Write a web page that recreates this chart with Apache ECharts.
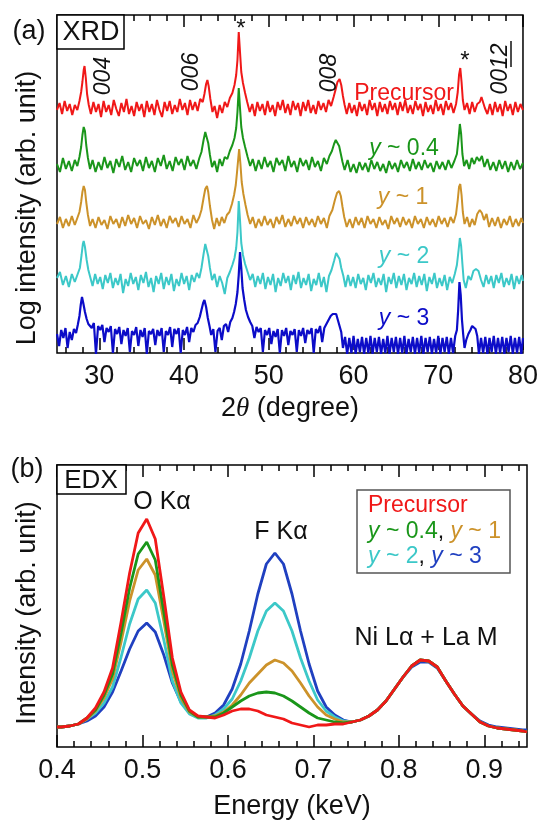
<!DOCTYPE html>
<html>
<head>
<meta charset="utf-8">
<title>XRD / EDX</title>
<script src="https://cdn.jsdelivr.net/npm/echarts@6/dist/echarts.min.js"></script>
<style>
  html, body { margin: 0; padding: 0; background: #fff; }
  #chart { width: 541px; height: 826px; }
</style>
</head>
<body>
<div id="chart"></div>
<script>
// ---------- ticks ----------
const xrdMajorTicks = [30, 40, 50, 60, 70, 80]
const xrdMinorTicks = [26, 28, 32, 34, 36, 38, 42, 44, 46, 48, 52, 54, 56, 58, 62, 64, 66, 68, 72, 74, 76, 78]
const edxMajorTicks = [0.4, 0.5, 0.6, 0.7, 0.8, 0.9]
const edxMinorTicks = [0.42, 0.44, 0.46, 0.48, 0.52, 0.54, 0.56, 0.58, 0.62, 0.64, 0.66, 0.68,
  0.72, 0.74, 0.76, 0.78, 0.82, 0.84, 0.86, 0.88, 0.92, 0.94]

// ---------- XRD, [2theta, offset log intensity] ----------
const xrdPrecursor = [[25,240],[25.3,247],[25.6,236],[25.9,249],[26.2,239],[26.5,246],[26.8,235],[27.1,245],[27.4,240],[27.65,249],[27.85,258],[28.0,268],[28.15,280],[28.25,284],[28.4,272],[28.55,256],[28.75,245],[29.0,236],[29.3,248],[29.6,238],[29.9,246],[30.2,233],[30.5,249],[30.8,238],[31.1,245],[31.4,235],[31.7,250],[32.0,241],[32.3,234],[32.6,247],[32.9,238],[33.2,251],[33.5,236],[33.8,244],[34.1,234],[34.4,248],[34.7,239],[35.0,246],[35.3,233],[35.6,249],[35.9,238],[36.2,246],[36.5,235],[36.8,250],[37.1,240],[37.4,233],[37.7,248],[38.0,239],[38.3,249],[38.6,236],[38.9,245],[39.2,238],[39.5,251],[39.8,240],[40.1,247],[40.4,235],[40.7,250],[41.0,240],[41.3,248],[41.6,239],[41.9,251],[42.2,248],[42.4,256],[42.6,266],[42.75,270],[42.9,264],[43.1,251],[43.35,238],[43.6,244],[43.9,232],[44.2,245],[44.5,237],[44.8,248],[45.1,243],[45.4,252],[45.7,257],[45.95,265],[46.15,275],[46.3,290],[46.45,318],[46.6,298],[46.75,278],[46.95,267],[47.2,257],[47.45,248],[47.75,238],[48.05,246],[48.35,234],[48.65,248],[48.95,239],[49.25,246],[49.55,235],[49.85,249],[50.15,238],[50.45,245],[50.75,234],[51.05,248],[51.35,240],[51.65,250],[51.95,237],[52.25,246],[52.55,235],[52.85,249],[53.15,240],[53.45,247],[53.75,234],[54.05,248],[54.35,239],[54.65,250],[54.95,237],[55.25,245],[55.55,236],[55.85,249],[56.15,240],[56.45,247],[56.75,238],[57.05,250],[57.35,244],[57.65,253],[57.9,261],[58.1,268],[58.35,271],[58.55,265],[58.75,254],[58.95,245],[59.2,236],[59.5,247],[59.8,237],[60.1,245],[60.4,234],[60.7,248],[61.0,239],[61.3,246],[61.6,235],[61.9,250],[62.2,240],[62.5,247],[62.8,234],[63.1,248],[63.4,238],[63.7,246],[64.0,236],[64.3,249],[64.6,240],[64.9,247],[65.2,235],[65.5,248],[65.8,239],[66.1,250],[66.4,237],[66.7,245],[67.0,236],[67.3,249],[67.6,240],[67.9,246],[68.2,234],[68.5,248],[68.8,238],[69.1,245],[69.4,236],[69.7,250],[70.0,239],[70.3,246],[70.6,235],[70.9,249],[71.2,240],[71.5,247],[71.8,237],[72.1,246],[72.3,258],[72.45,275],[72.6,282],[72.75,268],[72.9,250],[73.1,240],[73.4,247],[73.7,236],[74.0,248],[74.3,238],[74.6,246],[74.9,248],[75.1,253],[75.3,251],[75.5,242],[75.8,236],[76.1,246],[76.4,235],[76.7,248],[77.0,238],[77.3,246],[77.6,234],[77.9,249],[78.2,239],[78.5,246],[78.8,235],[79.1,248],[79.4,238],[79.7,246],[80,240]]

const xrdY04 = [[25,186],[25.35,178],[25.7,192],[26.05,181],[26.4,189],[26.75,179],[27.1,190],[27.4,184],[27.65,193],[27.85,203],[28.0,215],[28.15,223],[28.3,219],[28.45,205],[28.65,192],[28.9,181],[29.2,190],[29.55,178],[29.9,188],[30.25,180],[30.6,193],[30.95,182],[31.3,189],[31.65,177],[32.0,191],[32.35,183],[32.7,194],[33.05,180],[33.4,188],[33.75,178],[34.1,192],[34.45,184],[34.8,190],[35.15,179],[35.5,193],[35.85,182],[36.2,189],[36.55,178],[36.9,192],[37.25,184],[37.6,195],[37.95,181],[38.3,189],[38.65,179],[39.0,193],[39.35,185],[39.7,191],[40.05,180],[40.4,194],[40.75,184],[41.1,190],[41.45,181],[41.8,192],[42.05,198],[42.3,210],[42.5,218],[42.65,217],[42.85,207],[43.05,195],[43.3,183],[43.6,189],[43.9,178],[44.2,191],[44.5,184],[44.8,193],[45.1,191],[45.4,199],[45.7,205],[45.95,212],[46.15,222],[46.3,238],[46.45,262],[46.6,242],[46.75,223],[46.95,212],[47.2,203],[47.5,193],[47.8,184],[48.1,191],[48.45,179],[48.8,190],[49.15,181],[49.5,193],[49.85,183],[50.2,189],[50.55,178],[50.9,192],[51.25,185],[51.6,190],[51.95,179],[52.3,194],[52.65,183],[53.0,189],[53.35,178],[53.7,192],[54.05,184],[54.4,190],[54.75,180],[55.1,193],[55.45,183],[55.8,189],[56.15,179],[56.5,192],[56.85,186],[57.15,194],[57.45,199],[57.7,206],[57.9,210],[58.1,209],[58.3,204],[58.5,196],[58.7,188],[58.95,180],[59.3,190],[59.65,178],[60.0,186],[60.35,177],[60.7,188],[61.05,180],[61.4,187],[61.75,178],[62.1,190],[62.45,181],[62.8,188],[63.15,179],[63.5,186],[63.85,177],[64.2,189],[64.55,181],[64.9,187],[65.25,178],[65.6,190],[65.95,182],[66.3,188],[66.65,179],[67.0,191],[67.35,181],[67.7,188],[68.05,180],[68.4,190],[68.75,182],[69.1,187],[69.45,178],[69.8,189],[70.15,181],[70.5,188],[70.85,180],[71.2,190],[71.55,182],[71.9,189],[72.2,196],[72.4,212],[72.55,226],[72.7,216],[72.85,196],[73.05,184],[73.35,190],[73.65,181],[73.95,192],[74.25,186],[74.55,193],[74.85,189],[75.15,194],[75.45,183],[75.8,191],[76.15,180],[76.5,188],[76.85,179],[77.2,190],[77.55,181],[77.9,189],[78.25,178],[78.6,188],[78.95,180],[79.3,190],[79.65,181],[80,187]]

const xrdY1 = [[25,126],[25.35,133],[25.7,122],[26.05,131],[26.4,124],[26.75,134],[27.1,125],[27.4,132],[27.65,138],[27.85,148],[28.0,158],[28.15,164],[28.3,160],[28.45,148],[28.65,135],[28.9,124],[29.2,131],[29.55,122],[29.9,133],[30.25,125],[30.6,130],[30.95,121],[31.3,134],[31.65,126],[32.0,131],[32.35,122],[32.7,133],[33.05,124],[33.4,135],[33.75,126],[34.1,132],[34.45,122],[34.8,134],[35.15,126],[35.5,130],[35.85,121],[36.2,133],[36.55,125],[36.9,135],[37.25,124],[37.6,131],[37.95,122],[38.3,134],[38.65,127],[39.0,132],[39.35,123],[39.7,134],[40.05,126],[40.4,131],[40.75,122],[41.1,135],[41.45,127],[41.8,133],[42.05,140],[42.3,152],[42.5,161],[42.7,164],[42.85,158],[43.05,144],[43.3,130],[43.55,121],[43.85,132],[44.15,124],[44.45,133],[44.75,127],[45.05,135],[45.35,138],[45.65,146],[45.9,155],[46.1,165],[46.25,178],[46.4,192],[46.5,201],[46.65,186],[46.8,168],[47.0,156],[47.25,145],[47.5,135],[47.8,126],[48.1,133],[48.45,122],[48.8,131],[49.15,124],[49.5,134],[49.85,125],[50.2,131],[50.55,122],[50.9,133],[51.25,126],[51.6,135],[51.95,123],[52.3,131],[52.65,124],[53.0,134],[53.35,126],[53.7,132],[54.05,122],[54.4,133],[54.75,125],[55.1,131],[55.45,123],[55.8,134],[56.15,126],[56.5,132],[56.85,122],[57.15,134],[57.5,140],[57.8,150],[58.05,157],[58.3,159],[58.5,154],[58.7,143],[58.9,133],[59.2,123],[59.55,131],[59.9,122],[60.25,133],[60.6,125],[60.95,132],[61.3,122],[61.65,134],[62.0,126],[62.35,131],[62.7,122],[63.05,133],[63.4,125],[63.75,130],[64.1,121],[64.45,134],[64.8,126],[65.15,132],[65.5,123],[65.85,133],[66.2,125],[66.55,131],[66.9,122],[67.25,134],[67.6,126],[67.95,131],[68.3,122],[68.65,133],[69.0,125],[69.35,131],[69.7,123],[70.05,134],[70.4,126],[70.75,132],[71.1,123],[71.45,133],[71.8,127],[72.1,136],[72.3,150],[72.45,163],[72.6,166],[72.75,155],[72.9,138],[73.1,126],[73.4,133],[73.7,123],[74.0,131],[74.3,125],[74.6,136],[74.9,140],[75.15,137],[75.4,130],[75.7,136],[76.0,123],[76.35,132],[76.7,124],[77.05,133],[77.4,122],[77.75,131],[78.1,125],[78.45,134],[78.8,123],[79.15,131],[79.5,124],[79.8,132],[80,127]]

const xrdY2 = [[25,72],[25.35,78],[25.7,65],[26.05,74],[26.4,63],[26.75,76],[27.1,68],[27.4,75],[27.7,82],[27.9,95],[28.05,106],[28.15,109],[28.3,103],[28.5,90],[28.7,80],[28.95,72],[29.2,64],[29.5,76],[29.8,66],[30.1,73],[30.4,61],[30.7,75],[31.0,67],[31.3,77],[31.6,62],[31.9,72],[32.2,65],[32.5,76],[32.8,57],[33.1,71],[33.4,64],[33.7,77],[34.0,66],[34.3,73],[34.6,60],[34.9,75],[35.2,67],[35.5,78],[35.8,63],[36.1,72],[36.4,58],[36.7,74],[37.0,66],[37.3,77],[37.6,61],[37.9,73],[38.2,65],[38.5,76],[38.8,59],[39.1,71],[39.4,64],[39.7,77],[40.0,66],[40.3,74],[40.6,60],[40.9,75],[41.2,68],[41.5,77],[41.8,72],[42.05,82],[42.3,96],[42.5,106],[42.65,104],[42.85,94],[43.05,82],[43.3,70],[43.6,76],[43.9,63],[44.2,74],[44.5,67],[44.8,56],[45.1,72],[45.4,78],[45.7,85],[45.95,92],[46.15,102],[46.3,118],[46.45,149],[46.6,130],[46.75,107],[46.95,95],[47.2,86],[47.5,78],[47.8,70],[48.1,76],[48.4,63],[48.7,74],[49.0,66],[49.3,77],[49.6,61],[49.9,73],[50.2,65],[50.5,76],[50.8,58],[51.1,72],[51.4,64],[51.7,77],[52.0,67],[52.3,74],[52.6,60],[52.9,75],[53.2,66],[53.5,78],[53.8,62],[54.1,72],[54.4,65],[54.7,76],[55.0,59],[55.3,71],[55.6,65],[55.9,77],[56.2,63],[56.5,73],[56.8,58],[57.1,74],[57.4,80],[57.7,89],[57.95,97],[58.15,97],[58.35,91],[58.55,82],[58.8,74],[59.05,63],[59.35,75],[59.65,64],[59.95,73],[60.25,62],[60.55,76],[60.85,66],[61.15,72],[61.45,60],[61.75,75],[62.05,67],[62.35,77],[62.65,63],[62.95,72],[63.25,65],[63.55,76],[63.85,58],[64.15,73],[64.45,66],[64.75,77],[65.05,62],[65.35,74],[65.65,65],[65.95,76],[66.25,60],[66.55,72],[66.85,66],[67.15,77],[67.45,63],[67.75,74],[68.05,65],[68.35,76],[68.65,59],[68.95,73],[69.25,66],[69.55,77],[69.85,62],[70.15,72],[70.45,64],[70.75,75],[71.05,60],[71.35,73],[71.65,67],[71.95,76],[72.2,85],[72.4,100],[72.55,112],[72.7,104],[72.85,86],[73.0,70],[73.25,62],[73.55,74],[73.85,70],[74.15,79],[74.45,81],[74.75,79],[75.05,70],[75.35,63],[75.65,75],[75.95,66],[76.25,74],[76.55,62],[76.85,75],[77.15,67],[77.45,77],[77.75,63],[78.05,72],[78.35,65],[78.65,76],[78.95,61],[79.25,74],[79.55,66],[79.85,75],[80,69]]

const xrdY3 = [[25,16],[25.25,4],[25.5,20],[25.75,12],[26.0,22],[26.25,2],[26.5,18],[26.75,10],[27.0,21],[27.25,17],[27.45,25],[27.65,34],[27.8,45],[27.95,53],[28.1,47],[28.3,38],[28.5,31],[28.7,26],[28.9,28],[29.1,22],[29.35,27],[29.6,-4],[29.85,24],[30.1,20],[30.35,25],[30.6,8],[30.85,22],[31.1,18],[31.35,24],[31.6,-3],[31.85,21],[32.1,16],[32.35,23],[32.6,6],[32.85,20],[33.1,14],[33.35,22],[33.6,-2],[33.85,19],[34.1,15],[34.35,23],[34.6,4],[34.85,20],[35.1,13],[35.35,22],[35.6,-4],[35.85,19],[36.1,16],[36.35,21],[36.6,5],[36.85,20],[37.1,14],[37.35,22],[37.6,-2],[37.85,19],[38.1,15],[38.35,23],[38.6,3],[38.85,21],[39.1,16],[39.35,22],[39.6,-3],[39.85,20],[40.1,15],[40.35,23],[40.6,8],[40.85,22],[41.1,18],[41.35,25],[41.6,27],[41.85,33],[42.05,40],[42.25,47],[42.4,50],[42.6,43],[42.8,32],[43.0,24],[43.2,15],[43.45,21],[43.7,-2],[43.95,19],[44.2,22],[44.45,10],[44.7,24],[44.95,26],[45.2,18],[45.45,28],[45.7,32],[45.9,38],[46.1,46],[46.3,58],[46.45,75],[46.6,98],[46.75,82],[46.9,62],[47.1,50],[47.3,40],[47.55,33],[47.8,28],[48.05,24],[48.3,12],[48.55,23],[48.8,18],[49.05,22],[49.3,-2],[49.55,20],[49.8,15],[50.05,22],[50.3,6],[50.55,19],[50.8,13],[51.05,21],[51.3,-3],[51.55,20],[51.8,14],[52.05,22],[52.3,5],[52.55,19],[52.8,15],[53.05,21],[53.3,-2],[53.55,20],[53.8,14],[54.05,22],[54.3,7],[54.55,20],[54.8,16],[55.05,22],[55.3,-3],[55.55,21],[55.8,17],[56.05,24],[56.3,8],[56.55,22],[56.8,26],[57.05,30],[57.3,34],[57.55,36],[57.75,38],[57.95,36],[58.15,30],[58.35,24],[58.55,18],[58.75,2],[59.0,13],[59.25,-4],[59.5,12],[59.75,-3],[60.0,14],[60.25,-4],[60.5,11],[60.75,-2],[61.0,13],[61.25,-4],[61.5,12],[61.75,-3],[62.0,14],[62.25,-4],[62.5,12],[62.75,-2],[63.0,13],[63.25,-4],[63.5,11],[63.75,-3],[64.0,14],[64.25,-4],[64.5,12],[64.75,-2],[65.0,13],[65.25,-4],[65.5,12],[65.75,-3],[66.0,14],[66.25,-4],[66.5,11],[66.75,-2],[67.0,13],[67.25,-4],[67.5,12],[67.75,-3],[68.0,14],[68.25,-4],[68.5,12],[68.75,-2],[69.0,13],[69.25,-4],[69.5,11],[69.75,-3],[70.0,14],[70.25,-4],[70.5,12],[70.75,-2],[71.0,13],[71.25,-4],[71.5,12],[71.75,-3],[72.0,14],[72.2,20],[72.35,40],[72.5,68],[72.65,55],[72.8,30],[72.95,15],[73.1,2],[73.3,10],[73.55,16],[73.8,20],[74.0,24],[74.2,25],[74.4,21],[74.6,14],[74.8,-4],[75.05,12],[75.3,-3],[75.55,13],[75.8,-4],[76.05,12],[76.3,-2],[76.55,14],[76.8,-4],[77.05,12],[77.3,-3],[77.55,13],[77.8,-4],[78.05,12],[78.3,-2],[78.55,14],[78.8,-4],[79.05,12],[79.3,-3],[79.55,13],[79.8,-4],[80,12]]

// ---------- EDX ----------
const edxEnergy = [0.400, 0.405, 0.415, 0.425, 0.435, 0.445, 0.455, 0.465, 0.475, 0.485, 0.495, 0.505, 0.515,
  0.525, 0.535, 0.545, 0.555, 0.565, 0.575, 0.585, 0.595, 0.605, 0.615, 0.625, 0.635, 0.645, 0.655, 0.665,
  0.675, 0.685, 0.695, 0.705, 0.715, 0.725, 0.735, 0.745, 0.755, 0.765, 0.775, 0.785, 0.795, 0.805, 0.815,
  0.825, 0.835, 0.845, 0.855, 0.865, 0.875, 0.885, 0.895, 0.905, 0.915, 0.925, 0.935, 0.945, 0.950]
const edxPrecursor = [20, 20, 21, 23, 29, 39, 55, 79, 125, 174, 214, 228, 208, 150, 89, 55, 37, 31,
  30, 29, 32, 36, 38, 38, 36, 32, 30, 28, 24, 22, 20, 22, 22, 23, 23,
  25, 27, 31, 37, 46, 58, 70, 81, 87, 86, 80, 66, 53, 41, 33, 25, 21, 19, 18, 17, 16, 15]
const edxY04 = [20, 20, 21, 23, 29, 37, 52, 73, 114, 159, 193, 205, 187, 135, 82, 52, 36, 30,
  30, 30, 34, 40, 46, 51, 54, 55, 54, 51, 46, 40, 34, 29, 27, 25, 24,
  25, 27, 31, 37, 46, 58, 70, 81, 87, 86, 80, 66, 53, 41, 33, 25, 21, 19, 18, 17, 16, 15]
const edxY1 = [20, 20, 21, 23, 28, 36, 49, 68, 105, 146, 177, 188, 172, 126, 76, 49, 35, 30,
  30, 31, 35, 42, 52, 64, 73, 82, 87, 84, 76, 64, 51, 40, 32, 28, 25,
  25, 27, 31, 37, 46, 58, 70, 81, 87, 86, 80, 66, 53, 41, 33, 25, 21, 19, 18, 17, 16, 15]
const edxY2 = [20, 20, 21, 23, 28, 34, 44, 60, 90, 123, 148, 157, 144, 107, 66, 44, 33, 29,
  29, 32, 38, 48, 66, 89, 116, 136, 144, 136, 116, 89, 66, 47, 36, 30, 26,
  25, 27, 31, 37, 46, 58, 70, 81, 87, 86, 80, 66, 53, 41, 33, 25, 21, 19, 18, 17, 16, 15]
const edxY3 = [20, 20, 21, 23, 26, 31, 40, 55, 76, 98, 116, 124, 115, 92, 64, 45, 34, 30,
  30, 34, 42, 58, 83, 116, 153, 183, 194, 183, 153, 116, 83, 56, 40, 32, 27,
  25, 27, 31, 37, 46, 58, 70, 80, 85, 85, 79, 66, 53, 41, 33, 26, 22, 20, 19, 18, 17, 17]

const FONT = '"Liberation Sans", Arial, sans-serif'
const RED = '#f01818'
const GREEN = '#1a961a'
const ORANGE = '#cc922a'
const CYAN = '#3cc8c8'
const BLUE = '#0c0cc8'
const BLUE2 = '#2040c0'

function pairs(xs, ys) {
  return xs.map((x, i) => [x, ys[i]])
}

// one x axis: ticks only, or ticks + labels + title
function xAx(grid, pos, min, max, ticks, len, label) {
  const ax = {
    type: 'value', gridIndex: grid, position: pos, min: min, max: max,
    axisLine: { show: false },
    splitLine: { show: false },
    axisTick: { show: true, inside: true, length: len, customValues: ticks,
      lineStyle: { color: '#000', width: 1.5 } },
    axisLabel: { show: false }
  }
  if (label) {
    ax.axisLabel = { show: true, customValues: ticks, margin: 10, fontSize: 27,
      fontFamily: FONT, color: '#111' }
    ax.name = label.name
    ax.nameLocation = 'middle'
    ax.nameGap = label.gap
    ax.nameTextStyle = { fontSize: 27, fontFamily: FONT, color: '#111', rich: label.rich }
  }
  return ax
}

function line(name, data, color, width, xi, yi) {
  return {
    name: name, type: 'line', data: data, xAxisIndex: xi, yAxisIndex: yi,
    symbol: 'none', smooth: false, silent: true, clip: true,
    lineStyle: { color: color, width: width }
  }
}

function txt(x, y, text, opt) {
  opt = opt || {}
  return {
    type: 'text', x: x, y: y, rotation: opt.rot || 0, silent: true, z: 100,
    style: {
      text: text, fill: opt.color || '#111', fontSize: opt.size || 25, fontFamily: FONT,
      fontStyle: opt.italic ? 'italic' : 'normal', align: opt.align || 'center',
      verticalAlign: 'middle', rich: opt.rich
    }
  }
}

// rich styles with an italic "y"
function yRich(color, size) {
  return {
    i: { fontStyle: 'italic', fill: color, fontSize: size, fontFamily: FONT },
    n: { fill: color, fontSize: size, fontFamily: FONT }
  }
}
function rich2(c1, c2, size) {
  return {
    ai: { fontStyle: 'italic', fill: c1, fontSize: size, fontFamily: FONT },
    a: { fill: c1, fontSize: size, fontFamily: FONT },
    k: { fill: '#111', fontSize: size, fontFamily: FONT },
    bi: { fontStyle: 'italic', fill: c2, fontSize: size, fontFamily: FONT },
    b: { fill: c2, fontSize: size, fontFamily: FONT }
  }
}

const chart = echarts.init(document.getElementById('chart'), null, { renderer: 'canvas' })

const option = {
  animation: false,
  backgroundColor: '#fff',
  grid: [
    { left: 57, top: 15, width: 470, height: 338, show: true, borderColor: '#000', borderWidth: 1.5 },
    { left: 57, top: 465, width: 470, height: 282, show: true, borderColor: '#000', borderWidth: 1.5 }
  ],
  xAxis: [
    xAx(0, 'bottom', 25, 80, xrdMajorTicks, 12, {
      name: '2{t|θ} (degree)', gap: 42,
      rich: { t: { fontStyle: 'italic', fontFamily: '"Liberation Serif", serif', fontSize: 27, color: '#111' } }
    }),
    xAx(0, 'bottom', 25, 80, xrdMinorTicks, 6),
    xAx(0, 'top', 25, 80, xrdMajorTicks, 12),
    xAx(0, 'top', 25, 80, xrdMinorTicks, 6),
    xAx(1, 'bottom', 0.4, 0.95, edxMajorTicks, 12, { name: 'Energy (keV)', gap: 46 }),
    xAx(1, 'bottom', 0.4, 0.95, edxMinorTicks, 6),
    xAx(1, 'top', 0.4, 0.95, edxMajorTicks, 12),
    xAx(1, 'top', 0.4, 0.95, edxMinorTicks, 6)
  ],
  yAxis: [
    { type: 'value', gridIndex: 0, min: -3, max: 335, show: false },
    { type: 'value', gridIndex: 1, min: 0, max: 282, show: false }
  ],
  series: [
    line('Precursor', xrdPrecursor, RED, 2, 0, 0),
    line('y ~ 0.4', xrdY04, GREEN, 2, 0, 0),
    line('y ~ 1', xrdY1, ORANGE, 2, 0, 0),
    line('y ~ 2', xrdY2, CYAN, 2, 0, 0),
    line('y ~ 3', xrdY3, BLUE, 2.2, 0, 0),

    line('EDX y ~ 3', pairs(edxEnergy, edxY3), BLUE2, 2.8, 4, 1),
    line('EDX y ~ 2', pairs(edxEnergy, edxY2), CYAN, 2.8, 4, 1),
    line('EDX y ~ 1', pairs(edxEnergy, edxY1), ORANGE, 2.8, 4, 1),
    line('EDX y ~ 0.4', pairs(edxEnergy, edxY04), GREEN, 2.8, 4, 1),
    line('EDX Precursor', pairs(edxEnergy, edxPrecursor), RED, 2.8, 4, 1)
  ],
  graphic: [
    // panel (a)
    txt(29, 32, '(a)', { size: 27 }),
    { type: 'rect', shape: { x: 57, y: 15, width: 67, height: 34 }, silent: true, z: 99,
      style: { fill: '#fff', stroke: '#000', lineWidth: 1.5 } },
    txt(91, 33, 'XRD', { size: 27 }),
    txt(28, 208, 'Log intensity (arb. unit)', { size: 27, rot: Math.PI / 2 }),
    txt(104, 76, '004', { size: 23, italic: true, rot: Math.PI / 2 }),
    txt(192, 72, '006', { size: 23, italic: true, rot: Math.PI / 2 }),
    txt(330, 73, '008', { size: 23, italic: true, rot: Math.PI / 2 }),
    txt(501, 69, '0012', { size: 23, italic: true, rot: Math.PI / 2 }),
    { type: 'line', shape: { x1: 511, y1: 41, x2: 511, y2: 67 }, silent: true, z: 100,
      style: { stroke: '#111', lineWidth: 1.5 } },
    txt(241, 29, '*', { size: 24 }),
    txt(465, 61, '*', { size: 24 }),
    txt(404, 94, 'Precursor', { size: 23, color: RED }),
    txt(404, 149, '{i|y}{n| ~ 0.4}', { size: 23, rich: yRich(GREEN, 23) }),
    txt(403, 198, '{i|y}{n| ~ 1}', { size: 23, rich: yRich(ORANGE, 23) }),
    txt(404, 257, '{i|y}{n| ~ 2}', { size: 23, rich: yRich(CYAN, 23) }),
    txt(404, 319, '{i|y}{n| ~ 3}', { size: 23, rich: yRich(BLUE, 23) }),

    // panel (b)
    txt(27, 470, '(b)', { size: 27 }),
    { type: 'rect', shape: { x: 57, y: 465, width: 69, height: 29 }, silent: true, z: 99,
      style: { fill: '#fff', stroke: '#000', lineWidth: 1.5 } },
    txt(91, 481, 'EDX', { size: 26 }),
    txt(28, 613, 'Intensity (arb. unit)', { size: 27, rot: Math.PI / 2 }),
    txt(162, 502, 'O Kα', { size: 25 }),
    txt(281, 532, 'F Kα', { size: 25 }),
    txt(426, 638, 'Ni Lα + La M', { size: 25 }),
    { type: 'rect', shape: { x: 357, y: 490, width: 153, height: 83 }, silent: true, z: 99,
      style: { fill: '#fff', stroke: '#555', lineWidth: 1.5 } },
    txt(368, 506, 'Precursor', { size: 23, color: RED, align: 'left' }),
    txt(368, 532, '{ai|y}{a| ~ 0.4}{k|, }{bi|y}{b| ~ 1}', { size: 23, align: 'left', rich: rich2(GREEN, ORANGE, 23) }),
    txt(368, 557, '{ai|y}{a| ~ 2}{k|, }{bi|y}{b| ~ 3}', { size: 23, align: 'left', rich: rich2(CYAN, BLUE2, 23) })
  ]
}

chart.setOption(option)
</script>
</body>
</html>
